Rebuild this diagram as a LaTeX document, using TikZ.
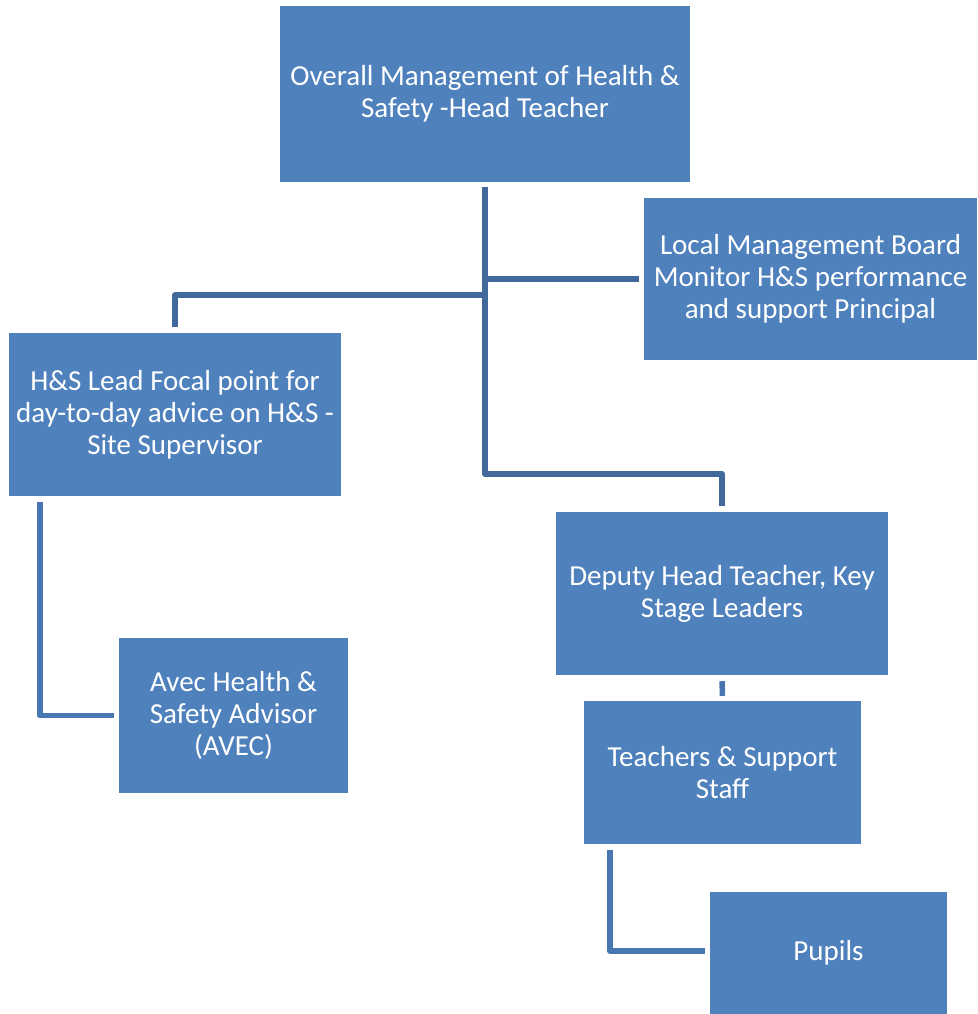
\documentclass[tikz,border=0pt]{standalone}
\usepackage{fontspec}
\setmainfont{Carlito}
\definecolor{boxblue}{HTML}{4F81BD}
\definecolor{linedark}{HTML}{41699B}
\definecolor{linelight}{HTML}{4876B1}
\begin{document}
\begin{tikzpicture}[x=1pt,y=-1pt,
    box/.style={rectangle,fill=boxblue,text=white,align=center,inner sep=0pt,
        font=\fontsize{29}{32}\selectfont},
    conn/.style={draw=linedark,line width=5.5pt,line join=round},
    connb/.style={conn,draw=linelight}]

                \useasboundingbox (0,0) rectangle (977,1014);
                \node[box,minimum width=410,minimum height=176] (top) at (485,94) {Overall Management of Health \&\\Safety -Head Teacher}; %最上位
                \node[box,minimum width=333,minimum height=162] (lmb) at (810.5,279) {Local Management Board\\Monitor H\&S performance\\and support Principal};
                \node[box,minimum width=332,minimum height=163] (hs) at (175,414.5) {H\&S Lead Focal point for\\day-to-day advice on H\&S -\\Site Supervisor};
                \node[box,minimum width=332,minimum height=163] (dep) at (722,593.5) {Deputy Head Teacher, Key\\Stage Leaders};
                \node[box,minimum width=229,minimum height=155] (avec) at (233.5,715.5) {Avec Health \&\\Safety Advisor\\(AVEC)};
                \node[box,minimum width=277,minimum height=143] (teach) at (722.5,772.5) {Teachers \& Support\\Staff};
                \node[box,minimum width=237,minimum height=122] (pupils) at (828.5,953) {Pupils};

                \coordinate (jL) at (485,295); %左への分岐
                \coordinate (jD) at (485,474); %右下への分岐

                \draw[conn] ([yshift=-5pt]top.south) -- (jD) -| ([yshift=6pt]dep.north);
                \draw[conn] (top.south |- lmb.west) -- ([xshift=-5pt]lmb.west);
                \draw[conn] (jL) -| ([yshift=6pt]hs.north);
                \draw[connb] ([yshift=-6pt]dep.south) -- ([yshift=5pt]teach.north);
                \draw[connb] ([xshift=31pt,yshift=-6pt]hs.south west) |- ([xshift=-5pt]avec.west);
                \draw[connb] ([xshift=26pt,yshift=-6pt]teach.south west) |- ([xshift=-5pt,yshift=2pt]pupils.west);

            \end{tikzpicture}
\end{document}
